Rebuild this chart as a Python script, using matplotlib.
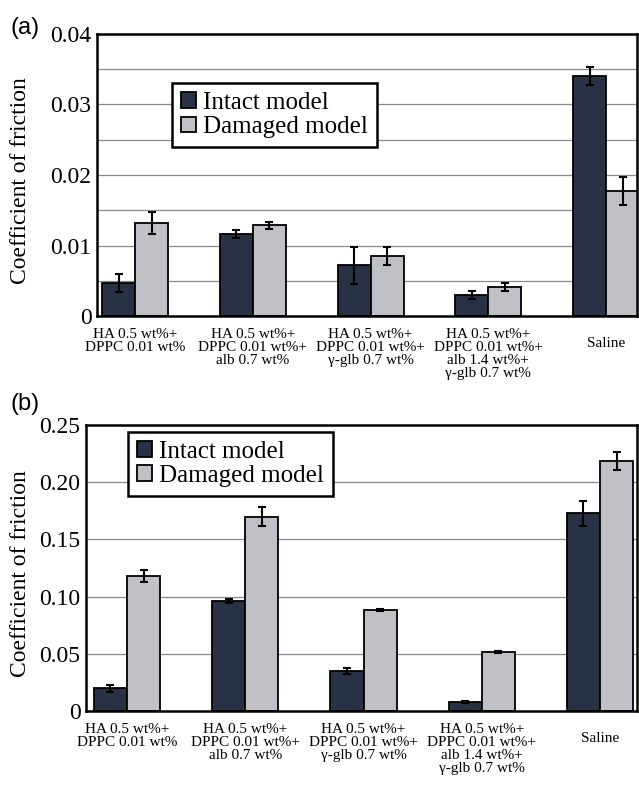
import numpy as np
import matplotlib
matplotlib.use("Agg")
from matplotlib import pyplot as plt
from matplotlib import transforms

plt.rcParams['font.family'] = ['Liberation Serif', 'DejaVu Serif']

labels = ["HA 0.5 wt%+\nDPPC 0.01 wt%",
          "HA 0.5 wt%+\nDPPC 0.01 wt%+\nalb 0.7 wt%",
          "HA 0.5 wt%+\nDPPC 0.01 wt%+\nγ-glb 0.7 wt%",
          "HA 0.5 wt%+\nDPPC 0.01 wt%+\nalb 1.4 wt%+\nγ-glb 0.7 wt%",
          "Saline"]

# panel (a)
intact_a = [0.0047, 0.0116, 0.0072, 0.0030, 0.0340]
intact_a_err = [0.0013, 0.0006, 0.0026, 0.0006, 0.0013]
damaged_a = [0.0132, 0.0129, 0.0085, 0.0041, 0.0177]
damaged_a_err = [0.0015, 0.0005, 0.0013, 0.0006, 0.0020]

# panel (b)
intact_b = [0.020, 0.096, 0.035, 0.008, 0.173]
intact_b_err = [0.003, 0.002, 0.003, 0.001, 0.011]
damaged_b = [0.118, 0.170, 0.088, 0.0515, 0.2185]
damaged_b_err = [0.005, 0.008, 0.001, 0.001, 0.008]

c_intact = "#283244"
c_damaged = "#c0c1c7"
w = 0.28

fig = plt.figure(figsize=(6.39, 7.87), dpi=100)
ax_a = fig.add_axes([97/639, 471/787, 540/639, 282/787])
ax_b = fig.add_axes([86/639, 76/787, 551/639, 286/787])

def panel(ax, intact, ierr, damaged, derr, ymax, step, minor, ticklabels,
          xlim, leg_anchor, ylab_x):
    x = np.arange(len(labels))
    for yy in np.arange(minor, ymax, minor):
        ax.axhline(yy, color="#8a8a8a", lw=0.9, zorder=0)
    ax.bar(x - w/2, intact, w, color=c_intact, edgecolor="black", lw=1.3,
           label="Intact model", zorder=2)
    ax.bar(x + w/2, damaged, w, color=c_damaged, edgecolor="black", lw=1.3,
           label="Damaged model", zorder=2)
    ax.errorbar(x - w/2, intact, yerr=ierr, fmt="none", ecolor="black",
                elinewidth=1.5, capsize=3, capthick=1.5, zorder=3)
    ax.errorbar(x + w/2, damaged, yerr=derr, fmt="none", ecolor="black",
                elinewidth=1.5, capsize=3, capthick=1.5, zorder=3)
    ax.set_xlim(*xlim)
    ax.set_ylim(0, ymax)
    ax.set_yticks(np.arange(0, ymax + step/2, step))
    ax.set_yticklabels(ticklabels, fontsize=17)
    ax.set_xticks([])
    ax.tick_params(axis="y", length=0, pad=4)
    for s in ax.spines.values():
        s.set_linewidth(1.8)
    ax.set_ylabel("Coefficient of friction", fontsize=17)
    ax.yaxis.set_label_coords(ylab_x, 0.48)
    trans = transforms.blended_transform_factory(ax.transData, ax.transAxes)
    for i, lab in enumerate(labels):
        if lab == "Saline":
            ax.text(i, -0.073, lab, transform=trans, ha="center", va="top",
                    fontsize=11)
        else:
            ax.text(i, -0.042, lab, transform=trans, ha="center", va="top",
                    fontsize=11, linespacing=1.0)
    leg = ax.legend(loc="upper left", bbox_to_anchor=leg_anchor, borderaxespad=0,
                    fontsize=18, fancybox=False, edgecolor="black",
                    framealpha=1, handlelength=0.6, handleheight=0.6,
                    handletextpad=0.3, labelspacing=0.1, borderpad=0.35)
    leg.get_frame().set_linewidth(1.8)
    leg.set_zorder(5)

panel(ax_a, intact_a, intact_a_err, damaged_a, damaged_a_err, 0.04, 0.01, 0.005,
      ["0", "0.01", "0.02", "0.03", "0.04"], (-0.323, 4.263), (0.139, 0.826), -0.122)
panel(ax_b, intact_b, intact_b_err, damaged_b, damaged_b_err, 0.25, 0.05, 0.05,
      ["0", "0.05", "0.10", "0.15", "0.20", "0.25"], (-0.347, 4.313), (0.076, 0.976), -0.100)

fig.text(0.016, 1 - 28/787, "(a)", fontsize=17, va="center", family="Liberation Sans")
fig.text(0.016, 1 - 404/787, "(b)", fontsize=17, va="center", family="Liberation Sans")

fig.savefig("out.png", dpi=100)
